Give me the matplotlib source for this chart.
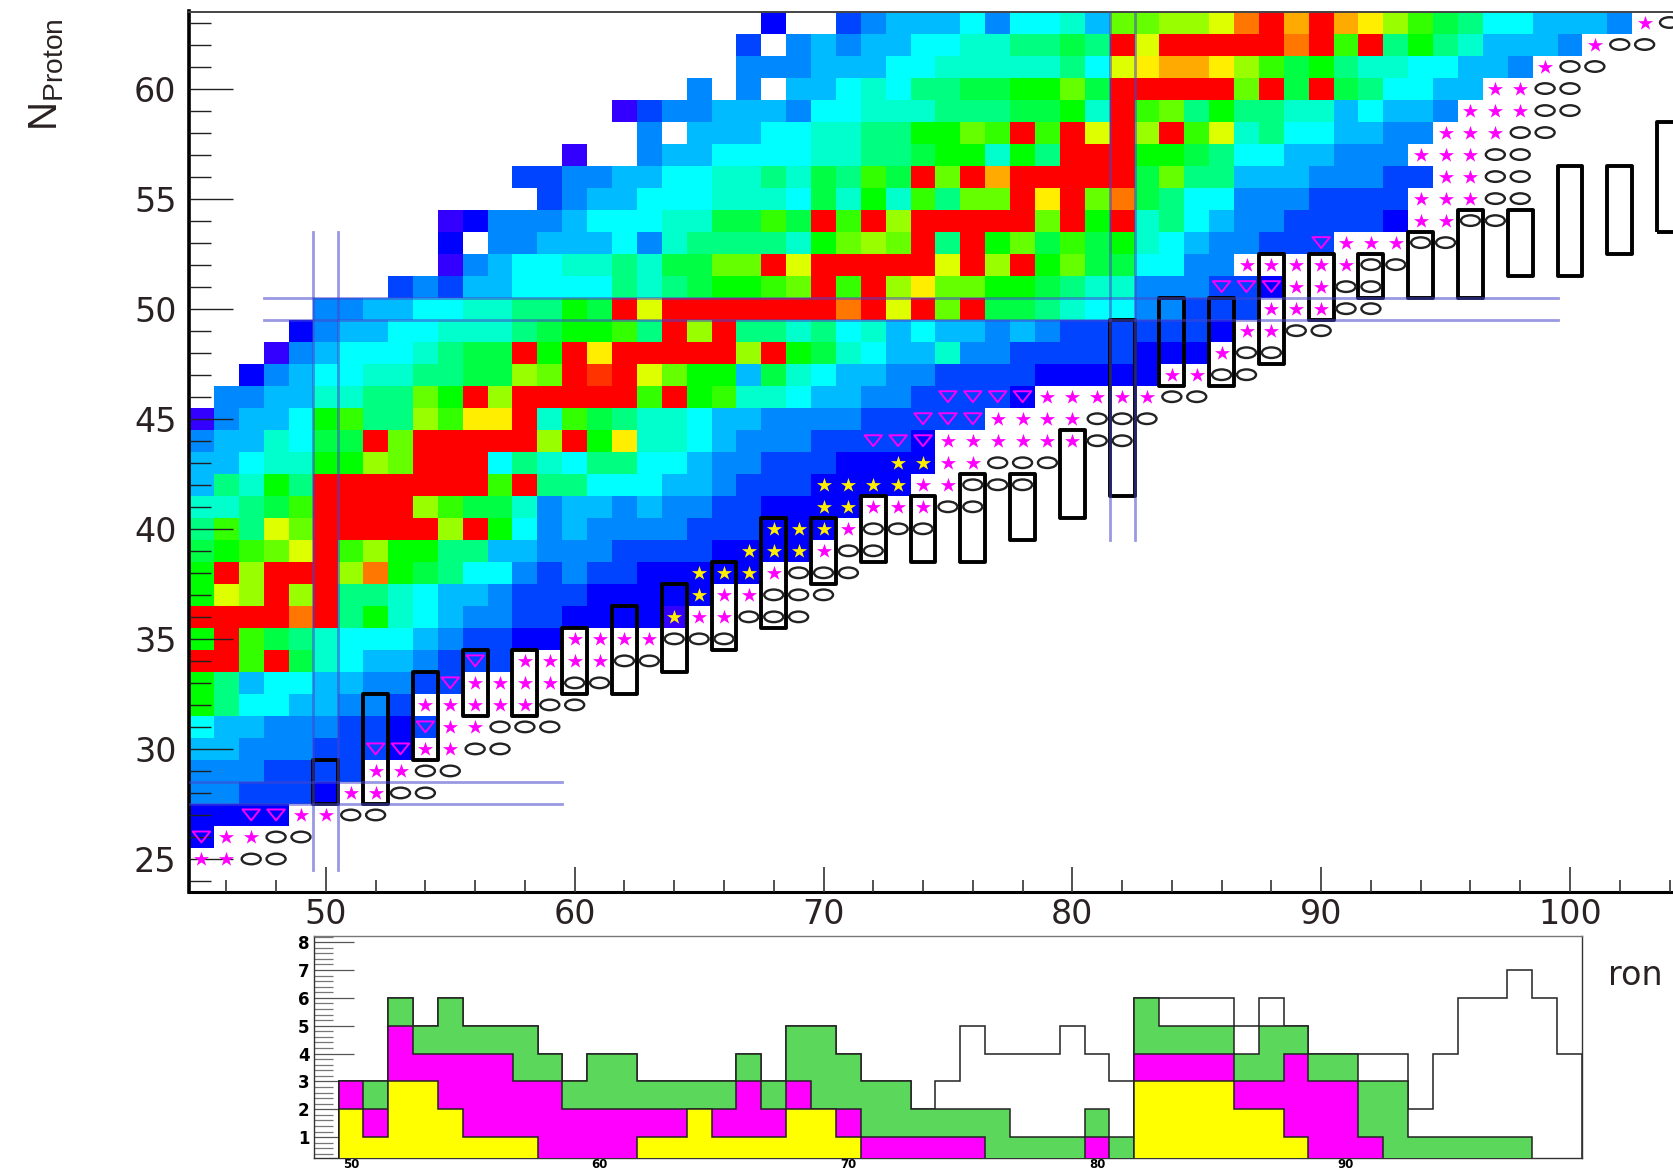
import numpy as np
import matplotlib
matplotlib.use("Agg")
import matplotlib.pyplot as plt
from matplotlib.colors import ListedColormap, BoundaryNorm
from matplotlib.markers import MarkerStyle
from matplotlib.ticker import MultipleLocator
from matplotlib.transforms import Affine2D

# ---------- heat map: colour level per cell, each row starts at first_n[Z] ----------
palette = ['#3300FF', '#0000FF', '#0044FF', '#0088FF', '#00BBFF', '#00FFFF', '#00FFCC',
           '#00FF80', '#00FF44', '#00FF00', '#33FF00', '#66FF00', '#99FF00', '#DDFF00',
           '#FFEE00', '#FFAA00', '#FF7700', '#FF3300', '#FF0000']

z63 = [2,0,0,3,4,5,5,5,6,4,6,6,7,5,12,12,13,13,14,17,19,16,19,16,15,13,11,9,8,6,6,5,5,5,4]
z62 = [3,0,4,5,4,5,5,6,6,7,7,8,8,9,8,19,14,19,19,19,19,19,17,19,11,19,8,10,8,7,5,5,5,4]
z61 = [4,4,4,5,5,5,6,6,7,7,7,7,7,8,6,14,15,16,16,15,13,11,9,10,8,7,7,6,6,5,5,4]
z60 = [4,0,4,0,5,5,6,7,6,8,8,9,9,10,10,12,9,19,19,19,19,19,12,19,9,19,9,8,6,6,5,5]
z59 = [1,3,4,4,5,5,5,4,6,6,7,7,7,8,8,8,9,9,10,7,19,11,12,8,10,8,8,7,7,5,6,5,5,4]
z58 = [4,0,5,5,5,6,6,7,7,8,8,10,10,12,11,19,11,19,14,19,13,19,11,14,7,8,6,6,5,5,4,4]
z57 = [1,0,0,4,5,5,6,6,6,6,7,7,8,8,9,10,10,7,10,8,19,19,19,10,10,9,8,6,6,5,5,4,4,4]
z56 = [3,3,4,4,5,5,6,6,7,7,8,7,9,8,11,9,19,12,19,16,19,19,19,19,19,9,12,8,8,5,5,5,4,4,4,3,3]
z55 = [3,4,5,5,6,6,6,7,7,7,6,9,7,10,7,11,8,12,12,19,15,19,12,17,9,8,6,6,4,4,4,3,3,3,3]
z54 = [1,2,4,4,4,5,6,6,6,7,7,9,9,11,9,19,11,19,13,19,19,19,19,19,12,19,10,19,7,8,6,5,4,4,3,3,3,3,2]
z53 = [2,0,4,4,5,5,5,6,4,7,8,8,8,8,7,10,12,13,12,19,8,19,10,12,9,11,9,10,7,6,5,4,4,3,3,3]
z52 = [1,4,5,6,6,7,7,8,7,9,9,12,12,19,14,19,19,19,19,19,14,19,13,19,10,12,9,9,6,6,4,4]
z51 = [3,4,3,5,5,6,6,6,6,8,7,8,9,10,10,11,12,19,11,19,13,15,12,12,10,10,9,8,7,7,4,4,4,3,3,2]
z50 = [4,4,5,5,6,6,7,7,8,8,10,9,19,14,19,19,19,19,19,19,19,17,19,14,19,12,19,9,9,8,7,6,6,4,4,3,3,3]
z49 = [2,4,5,5,6,6,7,7,7,8,9,10,10,11,8,19,13,19,8,8,7,8,6,7,5,6,5,5,4,5,4,3,3,3,3,3,3,2]
z48 = [1,4,5,6,6,6,7,8,9,9,19,10,19,15,19,19,19,19,19,13,19,10,9,7,6,5,5,7,4,4,3,3,3,3,3,2,2,2]
z47 = [2,4,5,6,6,7,7,8,8,9,9,13,12,19,18,19,14,12,10,10,5,9,7,6,5,5,4,4,3,3,3,3,2,2,2,2,2]
z46 = [4,4,5,5,7,7,8,8,12,10,19,13,19,19,19,19,19,11,19,10,11,7,7,6,5,5,4,4,3,3,3,3,2]
z45 = [1,4,5,5,6,10,11,8,8,13,11,15,15,19,7,11,9,8,7,7,6,5,5,4,4,4,4,3,3,3,3,3]
z44 = [4,5,5,7,6,9,9,19,12,19,19,19,19,19,13,19,10,15,7,7,6,5,4,4,4,3,3,3,3,2]
z43 = [5,5,6,7,7,10,10,13,12,19,19,19,6,8,7,6,8,8,6,6,5,4,4,3,3,3,2,2,2,2]
z42 = [5,8,7,10,8,19,19,19,19,19,19,19,11,19,8,8,6,6,6,5,5,4,3,3,3,2,2,2,2]
z41 = [7,7,8,9,11,19,19,19,19,13,11,9,9,7,4,5,5,4,5,4,4,3,3,2,2,2,2]
z40 = [8,11,8,14,12,19,19,19,19,19,13,19,10,6,4,5,4,4,4,4,3,3,3,2,2,2]
z39 = [9,10,11,12,14,19,11,13,10,10,8,8,5,5,4,4,4,3,3,3,3,2,2,2,2]
z38 = [10,19,13,19,19,19,13,17,10,9,8,6,6,4,3,4,3,3,2,2,2,2,2]
z37 = [10,14,13,19,13,19,8,8,7,6,5,5,4,3,3,3,2,2,2,2,2]
z36 = [19,19,19,19,17,19,8,10,7,6,5,4,4,3,3,2,2,2,2,1]
z35 = [10,19,11,9,8,7,6,6,6,5,4,3,3,2,2]
z34 = [19,19,11,19,9,7,6,5,5,4,3,3,3]
z33 = [10,8,5,6,6,5,5,4,4,3,3]
z32 = [10,8,6,6,5,5,4,4,3]
z31 = [6,5,5,4,4,4,3,3,2,3]
z30 = [5,5,4,4,4,3,3,3,2]
z29 = [4,4,4,3,3,3,3]
z28 = [4,4,3,3,3,2]
z27 = [2,2,2,2]
z26 = [2]

heat_rows = {63: z63, 62: z62, 61: z61, 60: z60, 59: z59, 58: z58, 57: z57, 56: z56, 55: z55,
             54: z54, 53: z53, 52: z52, 51: z51, 50: z50, 49: z49, 48: z48, 47: z47, 46: z46,
             45: z45, 44: z44, 43: z43, 42: z42, 41: z41, 40: z40, 39: z39, 38: z38, 37: z37,
             36: z36, 35: z35, 34: z34, 33: z33, 32: z32, 31: z31, 30: z30, 29: z29, 28: z28,
             27: z27, 26: z26}
first_n = {63: 68, 62: 67, 61: 67, 60: 65, 59: 62, 58: 63, 57: 60, 56: 58, 55: 59, 54: 55, 53: 55,
           52: 55, 51: 53, 50: 50, 49: 49, 48: 48, 47: 47, 46: 46}

# ---------- nuclei markers (Z: list of N) ----------
magenta_stars = {25:[45,46], 26:[46,47], 27:[49,50], 28:[51,52], 29:[52,53], 30:[54,55], 31:[55,56],
                 32:[54,55,56,57,58], 33:[56,57,58,59], 34:[58,59,60,61], 35:[60,61,62,63], 36:[65,66],
                 37:[66,67], 38:[68], 39:[70], 40:[71], 41:[72,73,74], 42:[74,75], 43:[75,76],
                 44:[75,76,77,78,79,80], 45:[77,78,79,80], 46:[79,80,81,82,83], 47:[84,85], 48:[86],
                 49:[87,88], 50:[88,89,90], 51:[89,90], 52:[87,88,89,90,91], 53:[91,92,93], 54:[94,95],
                 55:[94,95,96], 56:[95,96], 57:[94,95,96], 58:[95,96,97], 59:[96,97,98], 60:[97,98],
                 61:[99], 62:[101], 63:[103]}
yellow_stars = {36:[64], 37:[65], 38:[65,66,67], 39:[67,68,69], 40:[68,69,70], 41:[70,71],
                42:[70,71,72,73], 43:[73,74]}
open_triangles = {26:[45], 27:[47,48], 30:[52,53], 31:[54], 33:[55], 34:[56], 44:[72,73,74],
                  45:[74,75,76], 46:[75,76,77,78], 51:[86,87,88], 53:[90]}
open_circles = {25:[47,48], 26:[48,49], 27:[51,52], 28:[53,54], 29:[54,55], 30:[56,57], 31:[57,58,59],
                32:[59,60], 33:[60,61], 34:[62,63], 35:[64,65,66], 36:[67,68,69], 37:[68,69,70],
                38:[69,70,71], 39:[71,72], 40:[72,73,74], 41:[75,76], 42:[76,77,78], 43:[77,78,79],
                44:[81,82], 45:[81,82,83], 46:[84,85], 47:[86,87], 48:[87,88], 49:[89,90], 50:[91,92],
                51:[91,92], 52:[92,93], 53:[94,95], 54:[96,97], 55:[97,98], 56:[97,98], 57:[97,98],
                58:[98,99], 59:[99,100], 60:[99,100], 61:[100,101], 62:[102,103], 63:[104]}

# ---------- isotope-chain boxes ----------
box_n = [50,52,54,56,58,60,62,64,66,68,70,72,74,76,78,80,82,84,86,88,90,92,94,96,98,100,102,104]
box_lo = [27.5,27.5,29.5,31.5,31.5,32.5,32.5,33.5,34.5,35.5,37.5,38.5,38.5,38.5,39.5,40.5,41.5,46.5,
          46.5,47.5,49.5,50.5,50.5,50.5,51.5,51.5,52.5,53.5]
box_hi = [29.5,32.5,33.5,34.5,34.5,35.5,36.5,37.5,38.5,40.5,40.5,41.5,41.5,42.5,42.5,44.5,49.5,50.5,
          50.5,52.5,52.5,52.5,53.5,54.5,54.5,56.5,56.5,58.5]

# ---------- inset histogram (cumulative heights per N, first bin N=50) ----------
inset_n0 = 50
yellow_top = [2,1,3,3,2,1,1,1,0,0,0,0,1,1,2,1,1,1,2,2,1,0,0,0,0,0,0,0,0,0,0,0,3,3,3,3,2,2,1,0,0,0,0,0,0,0,0,0,0,0]
magenta_top = [3,2,5,4,4,4,4,3,3,2,2,2,2,2,2,2,3,2,3,2,2,1,1,1,1,1,0,0,0,0,1,0,4,4,4,4,3,3,4,3,3,1,0,0,0,0,0,0,0,0]
green_top = [3,3,6,5,6,5,5,5,4,3,4,4,3,3,3,3,4,3,5,5,4,3,3,2,2,2,2,1,1,1,2,1,6,5,5,5,4,5,5,4,4,3,3,1,1,1,1,1,0,0]
white_top = [3,3,6,5,6,5,5,5,4,3,4,4,3,3,3,3,4,3,5,5,4,3,3,2,3,5,4,4,4,5,4,3,6,6,6,6,5,6,5,4,4,4,4,2,4,6,6,7,6,4]

W, H = 1673, 1169
plt.rcParams['font.family'] = 'DejaVu Sans'
fig = plt.figure(figsize=(W / 100, H / 100), dpi=100)

def axes_rect(l, t, r, b):
    return [l / W, 1 - b / H, (r - l) / W, (b - t) / H]

TICK = '#2a2222'
ax = fig.add_axes(axes_rect(189, 11.5, 1673, 892))

# heat map
n_edges = np.arange(44.5, 106.5)
z_edges = np.arange(23.5, 64.5)
grid = np.zeros((len(z_edges) - 1, len(n_edges) - 1))
for z, row in heat_rows.items():
    start = first_n.get(z, 45)
    for i, level in enumerate(row):
        grid[z - 24, start + i - 45] = level
cmap = ListedColormap(palette)
norm = BoundaryNorm(np.arange(0.5, 20.5), cmap.N)
ax.pcolormesh(n_edges, z_edges, np.ma.masked_equal(grid, 0), cmap=cmap, norm=norm,
              edgecolors='none', zorder=1)

# boxes
ax.bar(box_n, np.array(box_hi) - np.array(box_lo), bottom=box_lo, width=1.0, fill=False,
       edgecolor='black', linewidth=2.8, joinstyle='round', zorder=3)

# magic number lines
magic = dict(color=(0.27, 0.27, 0.80), alpha=0.55, linewidth=2.0, zorder=4)
for n in (49.5, 50.5):
    ax.plot([n, n], [24.5, 53.5], **magic)
for n in (81.5, 82.5):
    ax.plot([n, n], [39.5, 63.5], **magic)
for z in (49.5, 50.5):
    ax.plot([47.5, 99.5], [z, z], **magic)
for z in (27.5, 28.5):
    ax.plot([44.5, 59.5], [z, z], **magic)

def flatten(table):
    ns = [n for z, row in table.items() for n in row]
    zs = [z for z, row in table.items() for n in row]
    return ns, zs

wide_circle = MarkerStyle('o', transform=Affine2D().scale(1.8, 1.0))
wide_tri = MarkerStyle('v', transform=Affine2D().scale(1.6, 1.0))
star = MarkerStyle('*', transform=Affine2D().scale(1.05, 1.0))
ax.scatter(*flatten(open_circles), marker=wide_circle, s=58, facecolors='none',
           edgecolors='#222222', linewidths=1.7, zorder=5)
ax.scatter(*flatten(open_triangles), marker=wide_tri, s=62, facecolors='none',
           edgecolors='#FF00FF', linewidths=1.4, zorder=5)
ax.scatter(*flatten(magenta_stars), marker=star, s=120, color='#FF00FF', linewidths=0, zorder=5)
ax.scatter(*flatten(yellow_stars), marker=star, s=120, color='#FFEE00', linewidths=0, zorder=5)

ax.set_xlim(44.5, 104.14)
ax.set_ylim(23.5, 63.5)
ax.xaxis.set_major_locator(MultipleLocator(10))
ax.xaxis.set_minor_locator(MultipleLocator(2))
ax.yaxis.set_major_locator(MultipleLocator(5))
ax.yaxis.set_minor_locator(MultipleLocator(1))
ax.tick_params(axis='x', which='major', direction='in', length=18, width=1.2, pad=4,
               labelsize=24, labelcolor=TICK, color='#333333')
ax.tick_params(axis='x', which='minor', direction='in', length=9, width=1.2, color='#333333')
ax.tick_params(axis='y', which='major', direction='in', length=32, width=1.0, pad=9,
               labelsize=24, labelcolor=TICK, color='#222222')
ax.tick_params(axis='y', which='minor', direction='in', length=16, width=1.0, color='#222222')
ax.set_axisbelow(False)
ax.spines['right'].set_visible(False)
ax.spines['left'].set_linewidth(2.6)
ax.spines['bottom'].set_linewidth(2.2)
ax.spines['top'].set_linewidth(1.4)
ax.spines['top'].set_color('#444444')

plt.rcParams['mathtext.fontset'] = 'custom'
plt.rcParams['mathtext.rm'] = 'Liberation Sans'
fig.text(46 / W, 1 - 18 / H, r'$\mathrm{N_{Proton}}$', rotation=90, ha='center', va='top',
         fontsize=29, color=TICK)
fig.text(1608 / W, 1 - 985 / H, 'ron', ha='left', va='baseline', fontsize=24, color=TICK)

# inset
inset = fig.add_axes(axes_rect(313.7, 936, 1582, 1157.5), zorder=10)
edges = np.arange(inset_n0 - 0.5, inset_n0 + len(white_top))
for i, (vals, col) in enumerate([(white_top, 'white'), (green_top, '#5BD75B'),
                                 (magenta_top, '#FF00FF'), (yellow_top, '#FFFF00')]):
    inset.stairs(vals, edges, baseline=0, fill=True, facecolor=col, edgecolor='none', zorder=2 + i)
    inset.stairs(vals, edges, baseline=0, fill=False, edgecolor='#222222', linewidth=1.1, zorder=2 + i)
inset.set_xlim(48.5, 99.5)
inset.set_ylim(0.27, 8.22)
inset.set_xticks([50, 60, 70, 80, 90])
inset.yaxis.set_major_locator(MultipleLocator(1))
inset.yaxis.set_minor_locator(MultipleLocator(0.2))
inset.tick_params(axis='x', which='major', length=0, pad=0.5, labelsize=8.5)
inset.tick_params(axis='y', which='major', direction='in', length=29, width=0.9, pad=3,
                  labelsize=12, color='#555555')
inset.tick_params(axis='y', which='minor', direction='in', length=14, width=0.9, color='#777777')
for lab in inset.get_xticklabels() + inset.get_yticklabels():
    lab.set_fontweight('bold')
for side in inset.spines.values():
    side.set_linewidth(1.0)
    side.set_color('#333333')
inset.spines['top'].set_color('#777777')

fig.savefig('out.png', dpi=100)
